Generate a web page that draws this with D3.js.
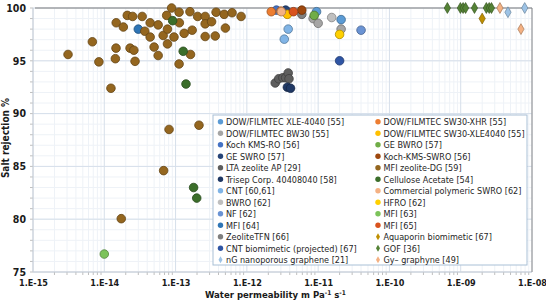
<!DOCTYPE html>
<html>
<head>
<meta charset="utf-8">
<script src="https://cdn.jsdelivr.net/npm/d3@7"></script>
<style>
  body { margin: 0; background: #fff; }
  svg text { font-family: "Liberation Sans Narrow", "Arial Narrow", "DejaVu Sans Condensed", sans-serif; }
</style>
</head>
<body>
<div id="chart"></div>
<script>
// series names, legend order (column 1 then column 2)
var seriesNames = [
  "DOW/FILMTEC XLE-4040 [55]", "DOW/FILMTEC BW30 [55]", "Koch KMS-RO [56]", "GE SWRO [57]",
  "LTA zeolite AP [29]", "Trisep Corp. 40408040 [58]", "CNT [60,61]", "BWRO [62]", "NF [62]",
  "MFI [64]", "ZeoliteTFN [66]", "CNT biomimetic (projected) [67]", "nG nanoporous graphene [21]",
  "DOW/FILMTEC SW30-XHR [55]", "DOW/FILMTEC SW30-XLE4040 [55]", "GE BWRO [57]", "Koch-KMS-SWRO [56]",
  "MFI zeolite-DG [59]", "Cellulose Acetate [54]", "Commercial polymeric SWRO [62]", "HFRO [62]",
  "MFI [63]", "MFI [65]", "Aquaporin biomimetic [67]", "GOF [36]", "Gy\u2013 graphyne  [49]"
];

// [water permeability, salt rejection %]
var xle4040 = [[9.5e-12, 99.65], [2.1e-11, 98.9]];
var bw30 = [[8.5e-12, 99.0], [1.0e-11, 98.55], [2.1e-11, 98.0]];
var kochKmsRo = [[2.6e-12, 99.8]];
var geSwro = [[3.5e-12, 99.8]];
var ltaZeolite = [[2.5e-12, 92.9], [2.8e-12, 93.3], [3.2e-12, 93.4], [3.5e-12, 93.4], [3.8e-12, 93.85], [3.9e-12, 93.3]];
var trisep = [[3.7e-12, 92.5], [4.1e-12, 92.4]];
var cnt = [[3.8e-12, 98.0], [3.35e-12, 97.05]];
var bwro = [[1.55e-11, 99.1]];
var nf = [[4.0e-11, 97.9]];
var mfi64 = [[3.0e-14, 98.0]];
var zeoliteTfn = [[5.9e-12, 99.4]];
var cntBiomimetic = [[2.0e-11, 95.0]];
var ngGraphene = [[4.6e-9, 99.6], [7.9e-9, 100]];
var sw30xhr = [[2.2e-12, 99.65], [3.0e-12, 99.7]];
var sw30xle = [[3.7e-12, 99.4]];
var geBwro = [[8.8e-12, 99.3]];
var kochSwro = [[5.9e-12, 99.8]];
var mfiZeoliteDg = [
  [3.1e-15, 95.6], [6.8e-15, 96.8], [8.4e-15, 94.9], [1.24e-14, 92.4], [1.43e-14, 95.2], [1.46e-14, 96.2],
  [1.47e-14, 98.6], [1.85e-14, 98.2], [2.1e-14, 99.3], [2.5e-14, 99.2], [2.3e-14, 96.2], [2.6e-14, 96.0],
  [2.7e-14, 94.95], [3.4e-14, 99.2], [3.7e-14, 97.8], [4.4e-14, 98.6], [4.4e-14, 97.25], [5.0e-14, 96.3],
  [5.7e-14, 95.5], [5.7e-14, 98.4], [6.7e-14, 97.4], [7.5e-14, 99.3], [7.7e-14, 98.0], [7.7e-14, 96.6],
  [8.1e-14, 88.5], [8.8e-14, 100], [9.5e-14, 97.25], [1.12e-13, 99.6], [1.13e-13, 98.6], [1.12e-13, 94.7],
  [1.32e-13, 97.6], [1.59e-13, 99.65], [1.62e-13, 95.6], [1.71e-13, 97.9], [2.04e-13, 99.2], [2.13e-13, 88.9],
  [2.6e-13, 99.2], [2.6e-13, 98.5], [3.2e-13, 98.7], [2.6e-13, 97.3], [3.6e-13, 97.35], [3.7e-13, 99.6],
  [4.8e-13, 99.4], [5.0e-13, 98.1], [6.2e-13, 99.55], [8.3e-13, 99.2], [6.8e-14, 84.6], [1.73e-14, 80.05]
];
var celluloseAcetate = [[9.1e-14, 98.8], [1.28e-13, 95.9], [1.40e-13, 92.8], [1.79e-13, 83.0], [1.98e-13, 82.0]];
var commercialSwro = [[3.05e-12, 99.65]];
var hfro = [[2.0e-11, 97.5]];
var mfi63 = [[1.0e-14, 76.7]];
var mfi65 = [[4.5e-12, 99.65]];
var aquaporin = [[2.0e-9, 99.0]];
var gof = [[6.5e-10, 100], [9.9e-10, 100], [1.08e-9, 100], [1.17e-9, 100], [1.56e-9, 100], [2.29e-9, 100], [2.51e-9, 100], [2.7e-9, 100]];
var graphyne = [[3.55e-9, 100], [7.0e-9, 98.0]];

var seriesData = [xle4040, bw30, kochKmsRo, geSwro, ltaZeolite, trisep, cnt, bwro, nf, mfi64, zeoliteTfn,
  cntBiomimetic, ngGraphene, sw30xhr, sw30xle, geBwro, kochSwro, mfiZeoliteDg, celluloseAcetate,
  commercialSwro, hfro, mfi63, mfi65, aquaporin, gof, graphyne];

var seriesColors = ["#5B9BD5", "#A5A5A5", "#4472C4", "#264478", "#5E5E5E", "#1F3864", "#80B4E6", "#BFBFBF",
  "#6A93D4", "#2E75B6", "#7F7F7F", "#2F55A4", "#9DC3E6", "#ED7D31", "#FFC000", "#70AD47", "#9E480E",
  "#94661F", "#3B6E2A", "#F4B183", "#FFD000", "#7CC35A", "#D9531E", "#BF8F00", "#548235", "#F4B183"];
var diamondSeries = ["nG nanoporous graphene [21]", "Aquaporin biomimetic [67]", "GOF [36]", "Gy\u2013 graphyne  [49]"];

var xTicks = [1e-15, 1e-14, 1e-13, 1e-12, 1e-11, 1e-10, 1e-9, 1e-8];
var yTicks = [75, 80, 85, 90, 95, 100];

var W = 546, H = 302;
var margin = {top: 8, right: 14, bottom: 30, left: 33};
var width = W - margin.left - margin.right,
    height = H - margin.top - margin.bottom;

var svg = d3.select("#chart").append("svg")
    .attr("width", W)
    .attr("height", H);

var g = svg.append("g")
    .attr("transform", "translate(" + margin.left + "," + margin.top + ")");

var x = d3.scaleLog().domain([1e-15, 1e-8]).range([0, width]);
var y = d3.scaleLinear().domain([75, 100]).range([height, 0]);

// minor grid
var minorX = [];
for (var e = -15; e < -8; e++) {
  for (var m = 2; m < 10; m++) minorX.push(m * Math.pow(10, e));
}
var minorY = d3.range(75, 101, 1);

g.append("g").selectAll("line").data(minorX).enter().append("line")
    .attr("x1", function(d) { return x(d); }).attr("x2", function(d) { return x(d); })
    .attr("y1", 0).attr("y2", height)
    .attr("stroke", "#EEF2F7").attr("stroke-width", 1);
g.append("g").selectAll("line").data(minorY).enter().append("line")
    .attr("x1", 0).attr("x2", width)
    .attr("y1", function(d) { return y(d); }).attr("y2", function(d) { return y(d); })
    .attr("stroke", "#EEF2F7").attr("stroke-width", 1);

// major grid
g.append("g").selectAll("line").data(xTicks).enter().append("line")
    .attr("x1", function(d) { return x(d); }).attr("x2", function(d) { return x(d); })
    .attr("y1", 0).attr("y2", height)
    .attr("stroke", "#D6DFEA").attr("stroke-width", 1);
g.append("g").selectAll("line").data(yTicks).enter().append("line")
    .attr("x1", 0).attr("x2", width)
    .attr("y1", function(d) { return y(d); }).attr("y2", function(d) { return y(d); })
    .attr("stroke", "#D6DFEA").attr("stroke-width", 1);

// minor tick marks
g.append("g").selectAll("line").data(minorX).enter().append("line")
    .attr("x1", function(d) { return x(d); }).attr("x2", function(d) { return x(d); })
    .attr("y1", height).attr("y2", height + 3)
    .attr("stroke", "#BFBFBF");
g.append("g").selectAll("line").data(minorY).enter().append("line")
    .attr("x1", -3).attr("x2", 0)
    .attr("y1", function(d) { return y(d); }).attr("y2", function(d) { return y(d); })
    .attr("stroke", "#BFBFBF");

// frame
g.append("line").attr("x1", 0).attr("x2", 0).attr("y1", 0).attr("y2", height).attr("stroke", "#C8CED6");
g.append("line").attr("x1", 0).attr("x2", width).attr("y1", height).attr("y2", height).attr("stroke", "#C8CED6");
g.append("line").attr("x1", width).attr("x2", width).attr("y1", 0).attr("y2", height).attr("stroke", "#8C8C8C");
g.append("line").attr("x1", 2).attr("x2", width).attr("y1", 0).attr("y2", 0).attr("stroke", "#7F7F7F");

// axes labels
var xAxis = d3.axisBottom(x).tickValues(xTicks).tickSize(0).tickPadding(8)
    .tickFormat(function(d) { return "1.E-" + d3.format("02d")(-Math.round(Math.log10(d))); });
var gx = g.append("g").attr("transform", "translate(0," + height + ")").call(xAxis);
gx.select(".domain").remove();
gx.selectAll("text").attr("font-size", 9).attr("font-weight", "bold").attr("fill", "#1a1a1a")
    .style("font-family", "\"Liberation Sans Narrow\", \"DejaVu Sans Condensed\", sans-serif");

var yAxis = d3.axisLeft(y).tickValues(yTicks).tickSize(0).tickPadding(7);
var gy = g.append("g").call(yAxis);
gy.select(".domain").remove();
gy.selectAll("text").attr("font-size", 10.5).attr("font-weight", "bold").attr("fill", "#1a1a1a")
    .style("font-family", "\"Liberation Sans Narrow\", \"DejaVu Sans Condensed\", sans-serif");

// axis titles
var xt = svg.append("text")
    .attr("x", 205).attr("y", 298)
    .attr("font-size", 9.5).attr("font-weight", "bold").attr("fill", "#1a1a1a");
xt.append("tspan").text("Water permeability m Pa");
xt.append("tspan").attr("dy", -3.5).attr("font-size", 6.5).text("-1");
xt.append("tspan").attr("dy", 3.5).text(" s");
xt.append("tspan").attr("dy", -3.5).attr("font-size", 6.5).text("-1");

svg.append("text")
    .attr("transform", "translate(9,138) rotate(-90)")
    .attr("text-anchor", "middle")
    .attr("font-size", 10).attr("font-weight", "bold").attr("fill", "#1a1a1a")
    .text("Salt rejection %");

// points
var diamond = d3.symbol().type(d3.symbolDiamond).size(34);
seriesData.forEach(function(pts, i) {
  var col = seriesColors[i];
  var stroke = d3.color(col).darker(1.1).formatHex();
  var isDiamond = diamondSeries.indexOf(seriesNames[i]) >= 0;
  var sg = g.append("g");
  if (isDiamond) {
    sg.selectAll("path").data(pts).enter().append("path")
      .attr("d", diamond)
      .attr("transform", function(d) { return "translate(" + x(d[0]) + "," + y(d[1]) + ")"; })
      .attr("fill", col).attr("stroke", stroke).attr("stroke-width", 0.7);
  } else {
    sg.selectAll("circle").data(pts).enter().append("circle")
      .attr("cx", function(d) { return x(d[0]); })
      .attr("cy", function(d) { return y(d[1]); })
      .attr("r", 4.3)
      .attr("fill", col).attr("stroke", stroke).attr("stroke-width", 0.8);
  }
});

// legend
var legend = svg.append("g");
legend.append("rect")
    .attr("x", 213).attr("y", 115).attr("width", 314).attr("height", 150)
    .attr("fill", "#fff").attr("stroke", "#A9C0D6").attr("stroke-width", 1);

var legDiamond = d3.symbol().type(d3.symbolDiamond).size(14);
seriesNames.forEach(function(name, i) {
  var col = i < 13 ? 0 : 1;
  var row = i % 13;
  var lx = col == 0 ? 220.5 : 378;
  var ly = 121.7 + row * 11.5;
  if (diamondSeries.indexOf(name) >= 0) {
    legend.append("path").attr("d", legDiamond)
      .attr("transform", "translate(" + lx + "," + ly + ")")
      .attr("fill", seriesColors[i]);
  } else {
    legend.append("circle").attr("cx", lx).attr("cy", ly).attr("r", 2.7)
      .attr("fill", seriesColors[i]);
  }
  legend.append("text")
    .attr("x", lx + 5.5).attr("y", ly + 3.3)
    .attr("font-size", 9).attr("fill", "#262626")
    .text(name);
});
</script>
</body>
</html>
